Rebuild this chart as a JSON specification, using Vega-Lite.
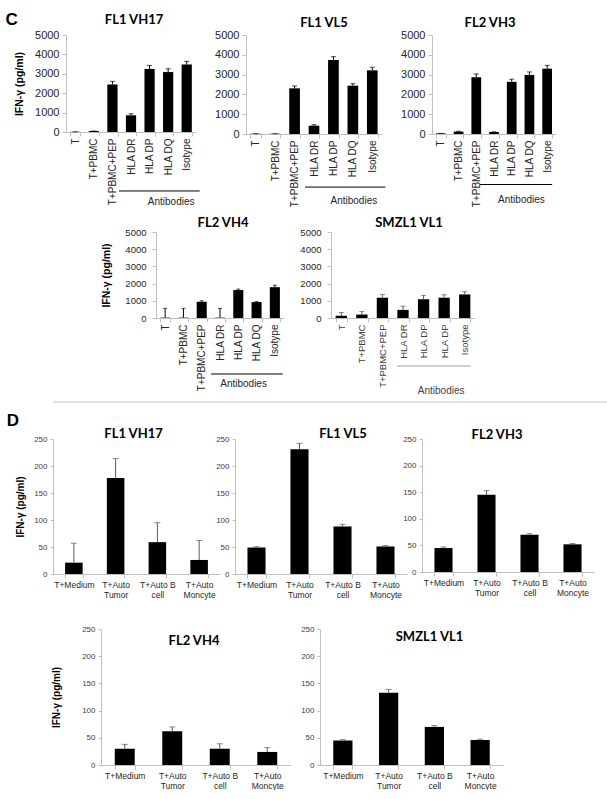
{
  "$schema": "https://vega.github.io/schema/vega-lite/v6.json",
  "padding": {"left": 5, "top": 11, "right": 0, "bottom": 0},
  "autosize": "pad",
  "config": {
    "view": {"stroke": null},
    "font": "Liberation Sans",
    "axis": {"grid": false, "domainColor": "#bfbfbf", "tickColor": "#bfbfbf", "labelColor": "#262626", "labelFont": "Liberation Sans", "titleFont": "Liberation Sans", "titleColor": "#000", "titleFontWeight": "bold", "tickSize": 4, "labelOverlap": false},
    "axisY": {"format": "d"},
    "axisX": {"tickBand": "extent", "labelPadding": 2},
    "text": {"font": "Liberation Sans", "fontWeight": "normal"},
    "title": {"font": "Lato", "fontSize": 13, "fontWeight": "bold", "color": "#000", "frame": "group", "anchor": "middle"}
  },
  "spacing": 5,
  "vconcat": [
    {
      "title": {"text": "C", "anchor": "start", "frame": "bounds", "font": "Liberation Sans", "fontSize": 17, "fontWeight": "bold", "offset": -15, "dx": -9},
      "spacing": 10,
      "vconcat": [
        {
          "bounds": "flush",
          "spacing": 0,
          "hconcat": [
            {"width": 13, "height": 10, "view": {"fill": "#ffffff"}, "data": {"values": []}, "mark": "text"},
            {
              "bounds": "flush",
              "spacing": 50,
              "hconcat": [
                {
                  "width": 130, "height": 97,
                  "title": {"text": "FL1 VH17", "offset": 2, "dx": 3},
                  "data": {"values": [
                    {"cat": "T", "v": 10, "hi": 10},
                    {"cat": "T+PBMC", "v": 50, "hi": 50},
                    {"cat": "T+PBMC+PEP", "v": 2450, "hi": 2610},
                    {"cat": "HLA DR", "v": 860, "hi": 940},
                    {"cat": "HLA DP", "v": 3250, "hi": 3430},
                    {"cat": "HLA DQ", "v": 3090, "hi": 3260},
                    {"cat": "Isotype", "v": 3480, "hi": 3640}
                  ]},
                  "encoding": {
                    "x": {"field": "cat", "type": "nominal", "sort": null, "scale": {"paddingInner": 0.45, "paddingOuter": 0.225}, "axis": {"title": null, "labelAngle": -90, "labelFontSize": 10}},
                    "y": {"field": "v", "type": "quantitative", "scale": {"domain": [0, 5000]}, "axis": {"values": [0, 1000, 2000, 3000, 4000, 5000], "tickCount": 6, "labelOverlap": false, "labelFontSize": 11, "labelPadding": 3, "title": "IFN-γ (pg/ml)", "titleFontSize": 10.5, "titlePadding": 10}}
                  },
                  "layer": [
                    {"mark": {"type": "bar", "color": "#000"}},
                    {"mark": {"type": "rule", "color": "#000"}, "encoding": {"y2": {"field": "hi"}}},
                    {"mark": {"type": "tick", "orient": "horizontal", "color": "#000", "size": 5, "thickness": 1}, "encoding": {"y": {"field": "hi", "type": "quantitative"}}},
                    {"transform": [{"filter": "datum.cat === 'T'"}], "mark": {"type": "rule", "color": "#000", "xOffset": -12, "x2Offset": 13}, "encoding": {"x": {"datum": "HLA DR", "type": "nominal"}, "x2": {"datum": "Isotype"}, "y": {"datum": -3040, "type": "quantitative"}}},
                    {"transform": [{"filter": "datum.cat === 'T'"}], "mark": {"type": "text", "text": "Antibodies", "fontSize": 10, "dx": 3, "color": "#262626"}, "encoding": {"x": {"datum": "HLA DQ", "type": "nominal"}, "y": {"datum": -3600, "type": "quantitative"}}}
                  ]
                },
                {
                  "width": 136, "height": 99,
                  "title": {"text": "FL1 VL5", "offset": -1, "dx": 10},
                  "data": {"values": [
                    {"cat": "T", "v": 15, "hi": 15},
                    {"cat": "T+PBMC", "v": 15, "hi": 15},
                    {"cat": "T+PBMC+PEP", "v": 2306, "hi": 2424},
                    {"cat": "HLA DR", "v": 420, "hi": 470},
                    {"cat": "HLA DP", "v": 3737, "hi": 3905},
                    {"cat": "HLA DQ", "v": 2441, "hi": 2542},
                    {"cat": "Isotype", "v": 3215, "hi": 3367}
                  ]},
                  "encoding": {
                    "x": {"field": "cat", "type": "nominal", "sort": null, "scale": {"paddingInner": 0.45, "paddingOuter": 0.225}, "axis": {"title": null, "labelAngle": -90, "labelFontSize": 10}},
                    "y": {"field": "v", "type": "quantitative", "scale": {"domain": [0, 5000]}, "axis": {"values": [0, 1000, 2000, 3000, 4000, 5000], "tickCount": 6, "labelOverlap": false, "labelFontSize": 11, "labelPadding": 3, "title": null}}
                  },
                  "layer": [
                    {"mark": {"type": "bar", "color": "#000"}},
                    {"mark": {"type": "rule", "color": "#000"}, "encoding": {"y2": {"field": "hi"}}},
                    {"mark": {"type": "tick", "orient": "horizontal", "color": "#000", "size": 5, "thickness": 1}, "encoding": {"y": {"field": "hi", "type": "quantitative"}}},
                    {"transform": [{"filter": "datum.cat === 'T'"}], "mark": {"type": "rule", "color": "#000", "xOffset": -9, "x2Offset": 13}, "encoding": {"x": {"datum": "HLA DR", "type": "nominal"}, "x2": {"datum": "Isotype"}, "y": {"datum": -2680, "type": "quantitative"}}},
                    {"transform": [{"filter": "datum.cat === 'T'"}], "mark": {"type": "text", "text": "Antibodies", "fontSize": 10, "dx": 1, "color": "#262626"}, "encoding": {"x": {"datum": "HLA DQ", "type": "nominal"}, "y": {"datum": -3380, "type": "quantitative"}}}
                  ]
                },
                {
                  "width": 124, "height": 99,
                  "title": {"text": "FL2 VH3", "offset": -1, "dx": -4},
                  "data": {"values": [
                    {"cat": "T", "v": 30, "hi": 30},
                    {"cat": "T+PBMC", "v": 120, "hi": 140},
                    {"cat": "T+PBMC+PEP", "v": 2867, "hi": 3033},
                    {"cat": "HLA DR", "v": 100, "hi": 110},
                    {"cat": "HLA DP", "v": 2633, "hi": 2767},
                    {"cat": "HLA DQ", "v": 2983, "hi": 3133},
                    {"cat": "Isotype", "v": 3300, "hi": 3467}
                  ]},
                  "encoding": {
                    "x": {"field": "cat", "type": "nominal", "sort": null, "scale": {"paddingInner": 0.45, "paddingOuter": 0.225}, "axis": {"title": null, "labelAngle": -90, "labelFontSize": 10}},
                    "y": {"field": "v", "type": "quantitative", "scale": {"domain": [0, 5000]}, "axis": {"values": [0, 1000, 2000, 3000, 4000, 5000], "tickCount": 6, "labelOverlap": false, "labelFontSize": 11, "labelPadding": 3, "title": null}}
                  },
                  "layer": [
                    {"mark": {"type": "bar", "color": "#000"}},
                    {"mark": {"type": "rule", "color": "#000"}, "encoding": {"y2": {"field": "hi"}}},
                    {"mark": {"type": "tick", "orient": "horizontal", "color": "#000", "size": 5, "thickness": 1}, "encoding": {"y": {"field": "hi", "type": "quantitative"}}},
                    {"transform": [{"filter": "datum.cat === 'T'"}], "mark": {"type": "rule", "color": "#000", "xOffset": -14, "x2Offset": 5}, "encoding": {"x": {"datum": "HLA DR", "type": "nominal"}, "x2": {"datum": "Isotype"}, "y": {"datum": -2550, "type": "quantitative"}}},
                    {"transform": [{"filter": "datum.cat === 'T'"}], "mark": {"type": "text", "text": "Antibodies", "fontSize": 10, "dx": -8, "color": "#262626"}, "encoding": {"x": {"datum": "HLA DQ", "type": "nominal"}, "y": {"datum": -3350, "type": "quantitative"}}}
                  ]
                }
              ]
            }
          ]
        },
        {
          "bounds": "flush",
          "spacing": 47,
          "hconcat": [
            {"width": 56, "height": 10, "view": {"fill": "#ffffff"}, "data": {"values": []}, "mark": "text"},
            {
              "width": 128, "height": 86,
              "title": {"text": "FL2 VH4", "offset": -3, "dx": 3},
              "data": {"values": [
                {"cat": "T", "v": 20, "hi": 560},
                {"cat": "T+PBMC", "v": 20, "hi": 560},
                {"cat": "T+PBMC+PEP", "v": 943, "hi": 1000},
                {"cat": "HLA DR", "v": 20, "hi": 560},
                {"cat": "HLA DP", "v": 1623, "hi": 1680},
                {"cat": "HLA DQ", "v": 925, "hi": 950},
                {"cat": "Isotype", "v": 1792, "hi": 1905}
              ]},
              "encoding": {
                "x": {"field": "cat", "type": "nominal", "sort": null, "scale": {"paddingInner": 0.45, "paddingOuter": 0.225}, "axis": {"title": null, "labelAngle": -90, "labelFontSize": 10}},
                "y": {"field": "v", "type": "quantitative", "scale": {"domain": [0, 5000]}, "axis": {"values": [0, 1000, 2000, 3000, 4000, 5000], "tickCount": 6, "labelOverlap": false, "labelFontSize": 9.5, "labelPadding": 6, "title": "IFN-γ (pg/ml)", "titleFontSize": 10.5, "titlePadding": 13}}
              },
              "layer": [
                {"mark": {"type": "bar", "color": "#000"}},
                {"mark": {"type": "rule", "color": "#000"}, "encoding": {"y2": {"field": "hi"}}},
                {"mark": {"type": "tick", "orient": "horizontal", "color": "#000", "size": 4, "thickness": 1}, "encoding": {"y": {"field": "hi", "type": "quantitative"}}},
                {"transform": [{"filter": "datum.cat === 'T'"}], "mark": {"type": "rule", "color": "#000", "xOffset": -9, "x2Offset": 8}, "encoding": {"x": {"datum": "HLA DR", "type": "nominal"}, "x2": {"datum": "Isotype"}, "y": {"datum": -3255, "type": "quantitative"}}},
                {"transform": [{"filter": "datum.cat === 'T'"}], "mark": {"type": "text", "text": "Antibodies", "fontSize": 10, "dx": -13, "color": "#262626"}, "encoding": {"x": {"datum": "HLA DQ", "type": "nominal"}, "y": {"datum": -3837, "type": "quantitative"}}}
              ]
            },
            {
              "width": 144, "height": 86,
              "title": {"text": "SMZL1 VL1", "offset": -3, "dx": 6},
              "data": {"values": [
                {"cat": "T", "v": 130, "hi": 320},
                {"cat": "T+PBMC", "v": 200, "hi": 375},
                {"cat": "T+PBMC+PEP", "v": 1180, "hi": 1370},
                {"cat": "HLA DR", "v": 470, "hi": 690},
                {"cat": "HLA DP", "v": 1090, "hi": 1310},
                {"cat": "HLA DP ", "v": 1180, "hi": 1350},
                {"cat": "Isotype", "v": 1370, "hi": 1530}
              ]},
              "encoding": {
                "x": {"field": "cat", "type": "nominal", "sort": null, "scale": {"paddingInner": 0.45, "paddingOuter": 0.225}, "axis": {"title": null, "labelAngle": -90, "labelFontSize": 9.5, "labelExpr": "trim(datum.label)", "labelColor": "#404040"}},
                "y": {"field": "v", "type": "quantitative", "scale": {"domain": [0, 5000]}, "axis": {"values": [0, 1000, 2000, 3000, 4000, 5000], "tickCount": 6, "labelOverlap": false, "labelFontSize": 9.5, "labelPadding": 6, "title": null}}
              },
              "layer": [
                {"mark": {"type": "bar", "color": "#000"}},
                {"mark": {"type": "rule", "color": "#595959"}, "encoding": {"y2": {"field": "hi"}}},
                {"mark": {"type": "tick", "orient": "horizontal", "color": "#595959", "size": 5, "thickness": 1}, "encoding": {"y": {"field": "hi", "type": "quantitative"}}},
                {"transform": [{"filter": "datum.cat === 'T'"}], "mark": {"type": "rule", "color": "#a6a6a6", "xOffset": -6, "x2Offset": 6}, "encoding": {"x": {"datum": "HLA DR", "type": "nominal"}, "x2": {"datum": "Isotype"}, "y": {"datum": -2791, "type": "quantitative"}}},
                {"transform": [{"filter": "datum.cat === 'T'"}], "mark": {"type": "text", "text": "Antibodies", "fontSize": 10, "dx": -3, "color": "#404040"}, "encoding": {"x": {"datum": "HLA DP ", "type": "nominal"}, "y": {"datum": -4243, "type": "quantitative"}}}
              ]
            }
          ]
        }
      ]
    },
    {
      "width": 598, "height": 5,
      "data": {"values": [{}]},
      "mark": {"type": "rule", "color": "#c8c8c8"},
      "encoding": {"y": {"datum": 1, "type": "quantitative", "scale": {"domain": [0, 1]}, "axis": null}}
    },
    {
      "title": {"text": "D", "anchor": "start", "frame": "bounds", "font": "Liberation Sans", "fontSize": 17, "fontWeight": "bold", "offset": -2, "dx": -9},
      "spacing": 26,
      "vconcat": [
        {
          "bounds": "flush",
          "spacing": 15,
          "hconcat": [
            {
              "width": 167, "height": 135,
              "title": {"text": "FL1 VH17", "offset": -6, "dx": -3},
              "data": {"values": [
                {"cat": "T+Medium", "v": 21, "hi": 57},
                {"cat": "T+Auto|Tumor", "v": 178, "hi": 214},
                {"cat": "T+Auto B|cell", "v": 59, "hi": 95},
                {"cat": "T+Auto|Moncyte", "v": 26, "hi": 62}
              ]},
              "encoding": {
                "x": {"field": "cat", "type": "nominal", "sort": null, "scale": {"paddingInner": 0.58, "paddingOuter": 0.29}, "axis": {"title": null, "labelAngle": 0, "labelExpr": "split(datum.label, '|')", "labelFontSize": 8.5, "labelLineHeight": 10}},
                "y": {"field": "v", "type": "quantitative", "scale": {"domain": [0, 250]}, "axis": {"values": [0, 50, 100, 150, 200, 250], "tickCount": 6, "labelOverlap": false, "labelFontSize": 8, "labelColor": "#404040", "labelPadding": 3, "tickSize": 3, "title": "IFN-γ (pg/ml)", "titleFontSize": 10, "titlePadding": 8}}
              },
              "layer": [
                {"mark": {"type": "bar", "color": "#000"}},
                {"mark": {"type": "rule", "color": "#595959"}, "encoding": {"y2": {"field": "hi"}}},
                {"mark": {"type": "tick", "orient": "horizontal", "color": "#595959", "size": 6, "thickness": 1}, "encoding": {"y": {"field": "hi", "type": "quantitative"}}}
              ]
            },
            {
              "width": 172, "height": 135,
              "title": {"text": "FL1 VL5", "offset": -6, "dx": 22},
              "data": {"values": [
                {"cat": "T+Medium", "v": 49, "hi": 50.5},
                {"cat": "T+Auto|Tumor", "v": 231, "hi": 242},
                {"cat": "T+Auto B|cell", "v": 88, "hi": 92},
                {"cat": "T+Auto|Moncyte", "v": 51, "hi": 52.5}
              ]},
              "encoding": {
                "x": {"field": "cat", "type": "nominal", "sort": null, "scale": {"paddingInner": 0.58, "paddingOuter": 0.29}, "axis": {"title": null, "labelAngle": 0, "labelExpr": "split(datum.label, '|')", "labelFontSize": 8.5, "labelLineHeight": 10}},
                "y": {"field": "v", "type": "quantitative", "scale": {"domain": [0, 250]}, "axis": {"values": [0, 50, 100, 150, 200, 250], "tickCount": 6, "labelOverlap": false, "labelFontSize": 8, "labelColor": "#404040", "labelPadding": 3, "tickSize": 3, "title": null}}
              },
              "layer": [
                {"mark": {"type": "bar", "color": "#000"}},
                {"mark": {"type": "rule", "color": "#595959"}, "encoding": {"y2": {"field": "hi"}}},
                {"mark": {"type": "tick", "orient": "horizontal", "color": "#595959", "size": 6, "thickness": 1}, "encoding": {"y": {"field": "hi", "type": "quantitative"}}}
              ]
            },
            {
              "width": 172, "height": 133,
              "title": {"text": "FL2 VH3", "offset": -7, "dx": -11},
              "data": {"values": [
                {"cat": "T+Medium", "v": 45, "hi": 47},
                {"cat": "T+Auto|Tumor", "v": 145, "hi": 153},
                {"cat": "T+Auto B|cell", "v": 70, "hi": 72},
                {"cat": "T+Auto|Moncyte", "v": 52, "hi": 53.5}
              ]},
              "encoding": {
                "x": {"field": "cat", "type": "nominal", "sort": null, "scale": {"paddingInner": 0.58, "paddingOuter": 0.29}, "axis": {"title": null, "labelAngle": 0, "labelExpr": "split(datum.label, '|')", "labelFontSize": 8.5, "labelLineHeight": 10}},
                "y": {"field": "v", "type": "quantitative", "scale": {"domain": [0, 250]}, "axis": {"values": [0, 50, 100, 150, 200, 250], "tickCount": 6, "labelOverlap": false, "labelFontSize": 8, "labelColor": "#404040", "labelPadding": 3, "tickSize": 3, "title": null}}
              },
              "layer": [
                {"mark": {"type": "bar", "color": "#000"}},
                {"mark": {"type": "rule", "color": "#595959"}, "encoding": {"y2": {"field": "hi"}}},
                {"mark": {"type": "tick", "orient": "horizontal", "color": "#595959", "size": 6, "thickness": 1}, "encoding": {"y": {"field": "hi", "type": "quantitative"}}}
              ]
            }
          ]
        },
        {
          "bounds": "flush",
          "spacing": 29,
          "hconcat": [
            {"width": 19, "height": 10, "view": {"fill": "#ffffff"}, "data": {"values": []}, "mark": "text"},
            {
              "width": 190, "height": 136,
              "title": {"text": "FL2 VH4", "offset": -23, "dx": -2},
              "data": {"values": [
                {"cat": "T+Medium", "v": 30, "hi": 38},
                {"cat": "T+Auto|Tumor", "v": 62, "hi": 70},
                {"cat": "T+Auto B|cell", "v": 30, "hi": 39},
                {"cat": "T+Auto|Moncyte", "v": 24, "hi": 32}
              ]},
              "encoding": {
                "x": {"field": "cat", "type": "nominal", "sort": null, "scale": {"paddingInner": 0.58, "paddingOuter": 0.29}, "axis": {"title": null, "labelAngle": 0, "labelExpr": "split(datum.label, '|')", "labelFontSize": 8.5, "labelLineHeight": 10}},
                "y": {"field": "v", "type": "quantitative", "scale": {"domain": [0, 250]}, "axis": {"values": [0, 50, 100, 150, 200, 250], "tickCount": 6, "labelOverlap": false, "labelFontSize": 8, "labelColor": "#404040", "labelPadding": 3, "tickSize": 3, "title": "IFN-γ (pg/ml)", "titleFontSize": 10, "titlePadding": 20}}
              },
              "layer": [
                {"mark": {"type": "bar", "color": "#000"}},
                {"mark": {"type": "rule", "color": "#595959"}, "encoding": {"y2": {"field": "hi"}}},
                {"mark": {"type": "tick", "orient": "horizontal", "color": "#595959", "size": 6, "thickness": 1}, "encoding": {"y": {"field": "hi", "type": "quantitative"}}}
              ]
            },
            {
              "width": 183, "height": 136,
              "title": {"text": "SMZL1 VL1", "offset": -19, "dx": 18},
              "data": {"values": [
                {"cat": "T+Medium", "v": 45, "hi": 46.5},
                {"cat": "T+Auto|Tumor", "v": 133, "hi": 139},
                {"cat": "T+Auto B|cell", "v": 70, "hi": 72.5},
                {"cat": "T+Auto|Moncyte", "v": 46, "hi": 47.5}
              ]},
              "encoding": {
                "x": {"field": "cat", "type": "nominal", "sort": null, "scale": {"paddingInner": 0.58, "paddingOuter": 0.29}, "axis": {"title": null, "labelAngle": 0, "labelExpr": "split(datum.label, '|')", "labelFontSize": 8.5, "labelLineHeight": 10}},
                "y": {"field": "v", "type": "quantitative", "scale": {"domain": [0, 250]}, "axis": {"values": [0, 50, 100, 150, 200, 250], "tickCount": 6, "labelOverlap": false, "labelFontSize": 8, "labelColor": "#404040", "labelPadding": 3, "tickSize": 3, "title": null}}
              },
              "layer": [
                {"mark": {"type": "bar", "color": "#000"}},
                {"mark": {"type": "rule", "color": "#595959"}, "encoding": {"y2": {"field": "hi"}}},
                {"mark": {"type": "tick", "orient": "horizontal", "color": "#595959", "size": 6, "thickness": 1}, "encoding": {"y": {"field": "hi", "type": "quantitative"}}}
              ]
            }
          ]
        }
      ]
    }
  ]
}
